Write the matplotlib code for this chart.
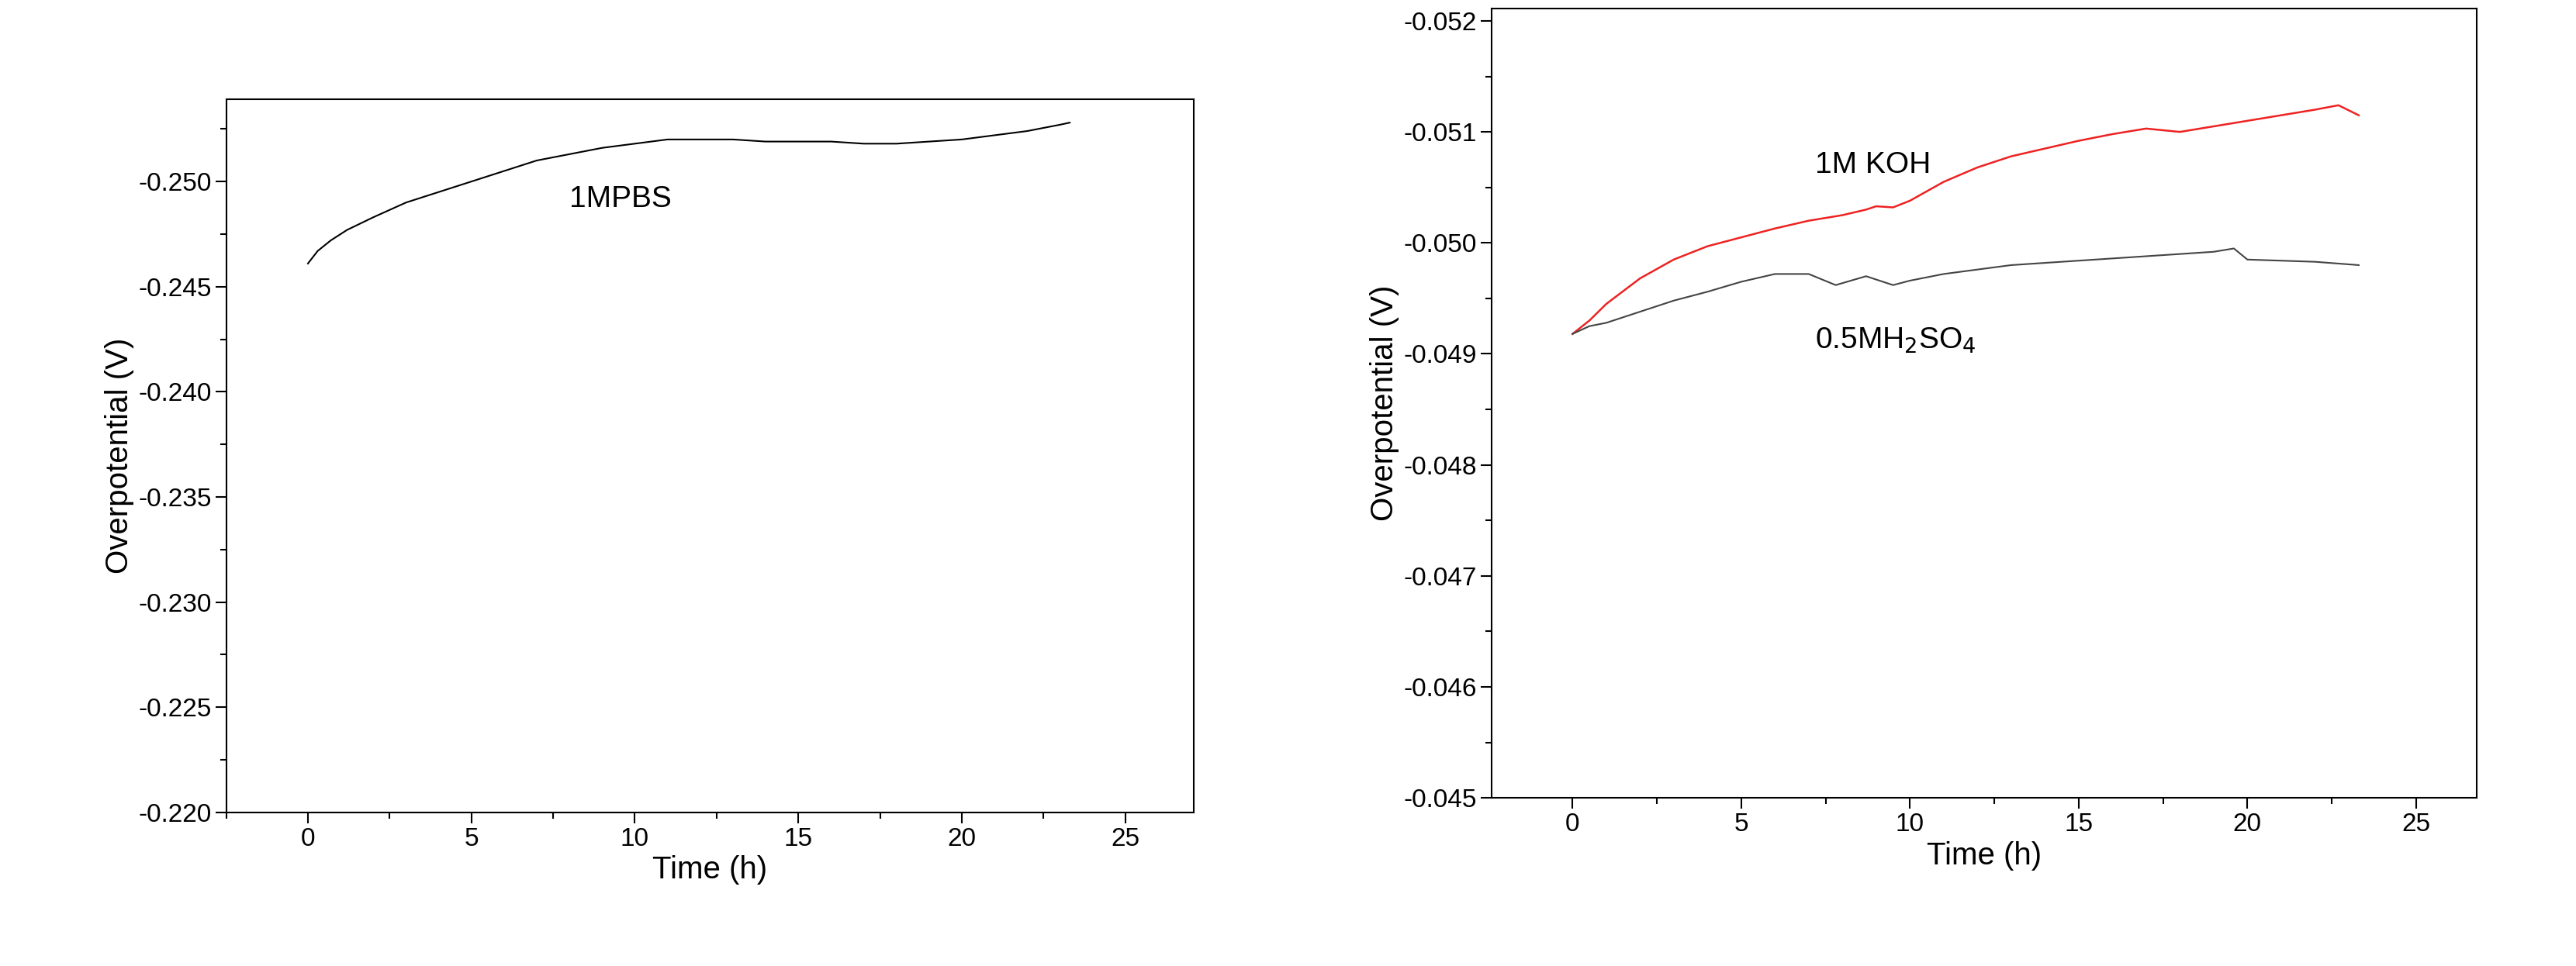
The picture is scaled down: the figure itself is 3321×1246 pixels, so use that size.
import matplotlib.pyplot as plt
from matplotlib.ticker import MultipleLocator

# 1M PBS
t_pbs = [0, 0.3, 0.7, 1.2, 2, 3, 4, 5, 6, 7, 8, 9, 10, 11, 12, 13, 14, 15, 16, 17, 18, 19, 20, 21, 22, 23, 23.3]
v_pbs = [-0.2461, -0.2467, -0.2472, -0.2477, -0.2483, -0.2490, -0.2495, -0.2500, -0.2505, -0.2510, -0.2513,
         -0.2516, -0.2518, -0.2520, -0.2520, -0.2520, -0.2519, -0.2519, -0.2519, -0.2518, -0.2518, -0.2519,
         -0.2520, -0.2522, -0.2524, -0.2527, -0.2528]

# 1M KOH
t_koh = [0, 0.5, 1, 2, 3, 4, 5, 6, 7, 8, 8.7, 9, 9.5, 10, 11, 12, 13, 14, 15, 16, 17, 18, 19, 20, 21, 22, 22.7, 23.3]
v_koh = [-0.04918, -0.04930, -0.04945, -0.04968, -0.04985, -0.04997, -0.05005, -0.05013, -0.05020, -0.05025,
         -0.05030, -0.05033, -0.05032, -0.05038, -0.05055, -0.05068, -0.05078, -0.05085, -0.05092, -0.05098,
         -0.05103, -0.05100, -0.05105, -0.05110, -0.05115, -0.05120, -0.05124, -0.05115]

# 0.5M H2SO4
t_h2so4 = [0, 0.5, 1, 2, 3, 4, 5, 6, 7, 7.8, 8.7, 9.5, 10, 11, 12, 13, 14, 15, 16, 17, 18, 19, 19.6, 20, 21, 22, 23.3]
v_h2so4 = [-0.04918, -0.04925, -0.04928, -0.04938, -0.04948, -0.04956, -0.04965, -0.04972, -0.04972, -0.04962,
           -0.04970, -0.04962, -0.04966, -0.04972, -0.04976, -0.04980, -0.04982, -0.04984, -0.04986, -0.04988,
           -0.04990, -0.04992, -0.04995, -0.04985, -0.04984, -0.04983, -0.04980]

plt.rcParams['font.family'] = ['Liberation Sans', 'DejaVu Sans']
fig = plt.figure(figsize=(33.21, 12.46), dpi=100)

def style(ax):
    ax.tick_params(which='both', direction='out', labelsize=24, width=1.5)
    ax.tick_params(which='major', length=10)
    ax.tick_params(which='minor', length=6)
    ax.xaxis.set_major_locator(MultipleLocator(5))
    ax.xaxis.set_minor_locator(MultipleLocator(2.5))
    for s in ax.spines.values():
        s.set_linewidth(1.5)
    ax.set_xlabel('Time (h)', fontsize=29)
    ax.set_ylabel('Overpotential (V)', fontsize=29)

ax1 = fig.add_axes([0.0878, 0.159, 0.3757, 0.738])
ax1.plot(t_pbs, v_pbs, color='black', lw=1.5)
ax1.set_xlim(-2.5, 27.1)
ax1.set_ylim(-0.220, -0.2539)
ax1.yaxis.set_major_locator(MultipleLocator(0.005))
ax1.yaxis.set_minor_locator(MultipleLocator(0.0025))
ax1.yaxis.set_major_formatter(lambda v, p: f'{v:.3f}')
ax1.text(8, -0.2488, '1MPBS', fontsize=28)
style(ax1)

ax2 = fig.add_axes([0.579, 0.174, 0.3825, 0.817])
ax2.plot(t_koh, v_koh, color='#ee2222', lw=1.8)
ax2.plot(t_h2so4, v_h2so4, color='#444444', lw=1.5)
ax2.set_xlim(-2.4, 26.8)
ax2.set_ylim(-0.045, -0.05211)
ax2.yaxis.set_major_locator(MultipleLocator(0.001))
ax2.yaxis.set_minor_locator(MultipleLocator(0.0005))
ax2.yaxis.set_major_formatter(lambda v, p: f'{v:.3f}')
ax2.text(7.2, -0.05063, '1M KOH', fontsize=28)
ax2.text(7.2, -0.04905, r'0.5MH$_2$SO$_4$', fontsize=28)
style(ax2)

fig.savefig('out.png')
